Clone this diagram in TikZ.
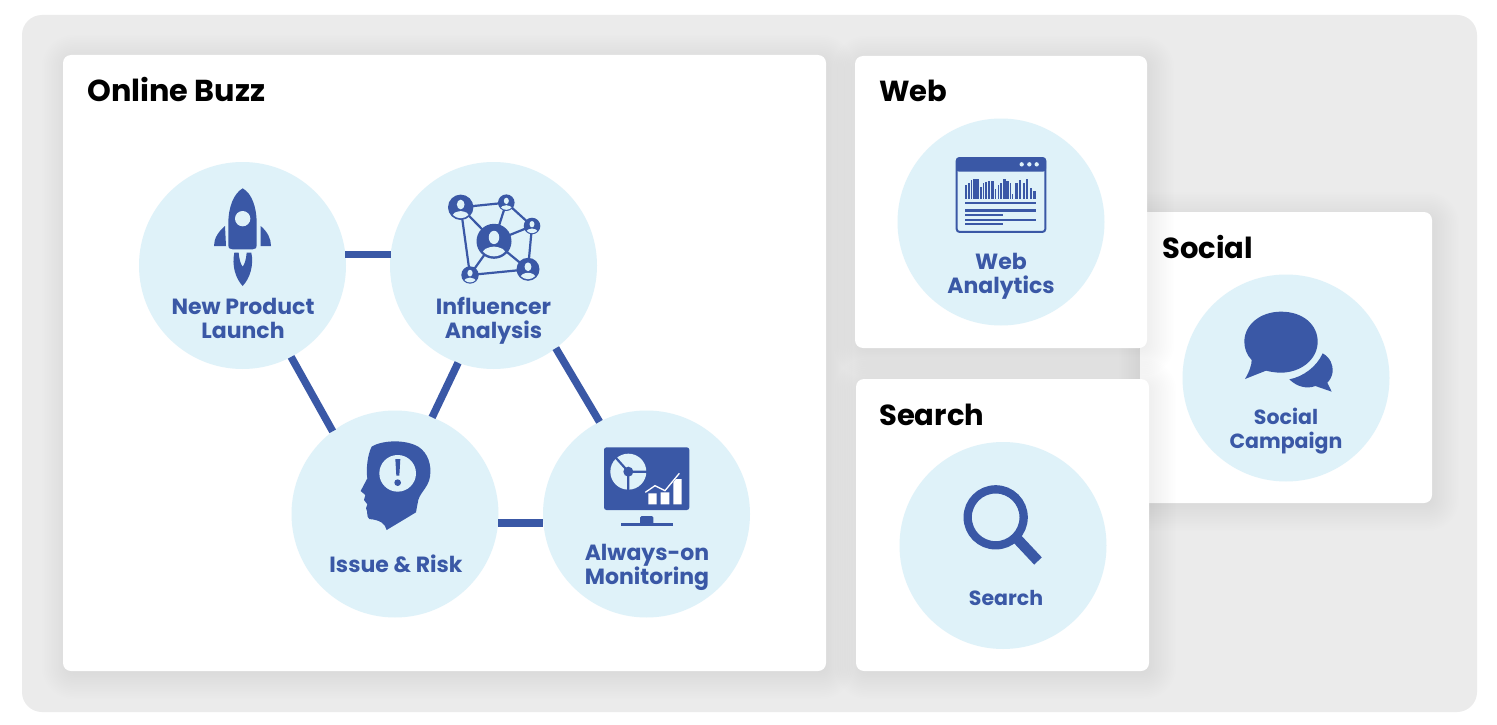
\documentclass[tikz,border=0pt]{standalone}
\usepackage{fontspec}
\setmainfont{Poppins}
\definecolor{ink}{HTML}{3A58A6}
\definecolor{disc}{HTML}{DFF2F9}
\definecolor{panel}{HTML}{EBEBEB}
\tikzset{
  discnode/.style={circle,fill=disc,minimum size=207pt,inner sep=0pt,outer sep=0pt},
  link/.style={draw=ink,line width=7.5pt},
  lab/.style={text=ink,align=center,inner sep=0pt,font=\fontsize{22}{24}\selectfont\bfseries},
  smalllab/.style={lab,font=\fontsize{20.5}{24}\selectfont\bfseries},
  head/.style={text=black,anchor=west,inner sep=0pt,font=\fontsize{29}{32}\selectfont\bfseries},
  card/.style={fill=white,rounded corners=8pt},
  zoomed/.style 2 args={shift={(#1,#2)},x=0.33333pt,y=-0.33333pt},
}
\newcommand{\softcard}[4]{%
  \foreach \i in {1,...,16}{%
    \pgfmathsetmacro{\g}{26-1.75*\i}
    \pgfmathsetmacro{\rr}{max(8,8+\g)}
    \pgfmathsetmacro{\xa}{#1+3-\g}\pgfmathsetmacro{\ya}{#2+4-\g}
    \pgfmathsetmacro{\xb}{#3+3+\g}\pgfmathsetmacro{\yb}{#4+4+\g}
    \fill[black,opacity=0.005,rounded corners=\rr pt] (\xa,\ya) rectangle (\xb,\yb);
  }
  \path[card] (#1,#2) rectangle (#3,#4);
}
\newcommand{\person}[3]{%
  \fill[ink] (#1,#2) circle (#3);
  \begin{scope}
    \clip (#1,#2) circle (#3*0.86);
    \fill[disc] (#1,#2-#3*0.22) ellipse (#3*0.3 and #3*0.38);
    \fill[disc] (#1-#3*0.72,#2+#3) .. controls (#1-#3*0.72,#2+#3*0.35) and (#1-#3*0.3,#2+#3*0.35) .. (#1,#2+#3*0.3)
       .. controls (#1+#3*0.3,#2+#3*0.35) and (#1+#3*0.72,#2+#3*0.35) .. (#1+#3*0.72,#2+#3) -- cycle;
  \end{scope}
}
\begin{document}
\begin{tikzpicture}[x=1pt,y=-1pt]
\useasboundingbox (0,0) rectangle (1497,725);
\fill[white] (0,0) rectangle (1497,725);
\fill[panel,rounded corners=20pt] (22,15) rectangle (1477,712);
\softcard{63}{55}{826}{671}
\softcard{1140}{212}{1432}{503}
\softcard{855}{56}{1147}{348}
\softcard{856}{379}{1149}{671}

\node[discnode] (npl) at (242.5,265.5) {};
\node[discnode] (inf) at (493.5,265.5) {};
\node[discnode] (iss) at (395,514) {};
\node[discnode] (alw) at (646.5,514) {};
\node[discnode] (web) at (1001,222) {};
\node[discnode] (sea) at (1003,545.5) {};
\node[discnode] (soc) at (1286,378) {};

\draw[link] (npl.6) -- (inf.174);
\draw[link] (npl.-62) -- (iss.127);
\draw[link] (inf.-110) -- (iss.69);
\draw[link] (inf.-53) -- (alw.117);
\draw[link] (iss.-5.5) -- (alw.185.5);

\node[head,font=\fontsize{30.3}{32}\selectfont\bfseries] (h1) at (87,89.5) {Online Buzz};
\node[head] (h2) at (879,91) {Web};
\node[head] (h3) at (1162,246.5) {Social};
\node[head] (h4) at (879,414.5) {Search};

\node[lab] (l1) at (243,318.5) {New Product\\Launch};
\node[lab] (l2) at (493.5,320.5) {Influencer\\Analysis};
\node[lab] (l3) at (396,564) {Issue \& Risk};
\node[lab] (l4) at (647,567.5) {Always-on\\Monitoring};
\node[lab] (l5) at (1001,276.5) {Web\\Analytics};
\node[smalllab] (l6) at (1286,431) {Social\\Campaign};
\node[smalllab] (l7) at (1006,598) {Search};

% rocket
\begin{scope}[zoomed={140}{160}]
  \fill[ink] (308,85) .. controls (335,100) and (350,140) .. (350,190) -- (350,255)
     .. controls (350,265) and (345,268) .. (338,268) -- (278,268) .. controls (270,268) and (265,265) .. (265,255) -- (265,190)
     .. controls (265,140) and (282,100) .. (308,85) -- cycle;
  \fill[disc] (308,176) circle (23);
  \fill[ink] (255,198) .. controls (235,215) and (222,235) .. (222,258) -- (258,258) -- cycle;
  \fill[ink] (362,198) .. controls (382,215) and (393,235) .. (393,258) -- (362,258) -- cycle;
  \fill[ink] (283,278) -- (296,278) .. controls (298,300) and (302,312) .. (308,320) .. controls (314,312) and (318,300) .. (320,278)
     -- (334,278) .. controls (342,315) and (330,355) .. (308,378) .. controls (286,355) and (275,315) .. (283,278) -- cycle;
\end{scope}

% network
\begin{scope}[zoomed={140}{160}]
  \coordinate (na) at (962,142); \coordinate (nb) at (1099,128); \coordinate (nc) at (1176,198);
  \coordinate (nd) at (1062,244); \coordinate (ne) at (990,345); \coordinate (nf) at (1164,328);
  \draw[ink,line width=2.2pt] (na)--(nb) (na)--(nd) (na)--(ne) (nb)--(nd) (nb)--(nc) (nc)--(nd) (nc)--(nf) (nd)--(ne) (nd)--(nf) (ne)--(nf);
\end{scope}
\person{460.7}{207.3}{12.7}
\person{506.3}{202.7}{8.3}
\person{532}{226}{8.3}
\person{494}{241.3}{17.5}
\person{470}{275}{8.7}
\person{528}{269.3}{11.5}

% head
\begin{scope}[zoomed={290}{405}]
  \fill[ink] (245,125) .. controls (270,108) and (340,100) .. (385,125) .. controls (415,145) and (425,180) .. (420,215)
     .. controls (415,250) and (385,265) .. (383,295) .. controls (380,305) and (380,315) .. (378,322)
     -- (290,375) .. controls (285,355) and (270,345) .. (238,342) .. controls (228,335) and (235,320) .. (228,310)
     -- (232,298) -- (222,285) -- (226,270) -- (212,258) -- (232,220) .. controls (228,195) and (232,150) .. (245,125) -- cycle;
  \fill[disc] (323,205) circle (55);
  \fill[ink] (316,162) -- (331,162) -- (328,212) -- (319,212) -- cycle;
  \fill[ink] (323,233) circle (10);
\end{scope}

% monitor
\begin{scope}[zoomed={290}{405}]
  \fill[ink,rounded corners=2.5pt] (942,127) rectangle (1198,315);
  \fill[ink,rounded corners=1.5pt] (1050,333) rectangle (1090,358);
  \fill[ink] (992,354) rectangle (1150,363);
  \fill[disc] (1015,200) circle (54);
  \draw[ink,line width=2.2pt] (1015,200) -- (970,150) (1015,200) -- (1075,200) (1015,200) -- (1015,258);
  \fill[ink] (1015,200) circle (15);
  \fill[white] (1075,265) rectangle (1100,298) (1112,262) rectangle (1138,298) (1150,222) rectangle (1175,298);
  \draw[ink,line width=3pt] (1062,262) -- (1095,240) -- (1125,255) -- (1165,205);
  \draw[white,line width=1.3pt] (1066,262) -- (1095,242) -- (1125,257) -- (1168,205);
\end{scope}

% browser
\begin{scope}[zoomed={900}{120}]
  \draw[ink,line width=2pt,rounded corners=3pt] (170,114) rectangle (436,336);
  \fill[ink,rounded corners=3pt] (168,112) rectangle (438,155);
  \fill[disc] (365,133) circle (6.5) (388,133) circle (6.5) (410,133) circle (6.5);
  \foreach \bx/\bh/\bw in {198/195/5,206/190/5,214/180/5,223/178/8,233/178/9,243/200/5,250/188/4,258/185/8,268/183/6,277/184/8,
     287/208/4,295/195/5,303/188/5,312/178/9,322/184/8,331/190/5,338/222/4,350/188/9,360/180/8,371/188/6,381/178/8,392/205/6,403/212/8}{
    \fill[ink] (\bx-\bw/2,\bh) rectangle (\bx+\bw/2,237);
  }
  \fill[ink] (195,246) rectangle (408,253);
  \fill[ink] (195,268) rectangle (408,276);
  \fill[ink] (195,282) rectangle (310,288);
  \fill[ink] (195,296) rectangle (408,302);
  \fill[ink] (195,308) rectangle (310,314);
\end{scope}

% speech bubbles
\begin{scope}[zoomed={1130}{280}]
  \fill[ink] (453,95) .. controls (520,95) and (563,135) .. (563,185) .. controls (563,240) and (510,278) .. (453,278)
    .. controls (435,278) and (420,275) .. (408,272) -- (345,297) .. controls (358,275) and (365,255) .. (365,240)
    .. controls (350,225) and (343,205) .. (343,185) .. controls (343,135) and (390,95) .. (453,95) -- cycle;
  \fill[ink] (578,220) .. controls (600,232) and (610,255) .. (608,275) .. controls (606,290) and (600,300) .. (592,308)
    -- (605,335) -- (556,318) .. controls (530,328) and (500,320) .. (478,298) .. controls (520,290) and (560,260) .. (578,220) -- cycle;
\end{scope}

% magnifier
\begin{scope}[zoomed={900}{460}]
  \draw[ink,line width=8.3pt] (287,172) circle (84);
  \draw[ink,line width=10.5pt] (352,237) -- (414,303);
\end{scope}
\end{tikzpicture}
\end{document}
